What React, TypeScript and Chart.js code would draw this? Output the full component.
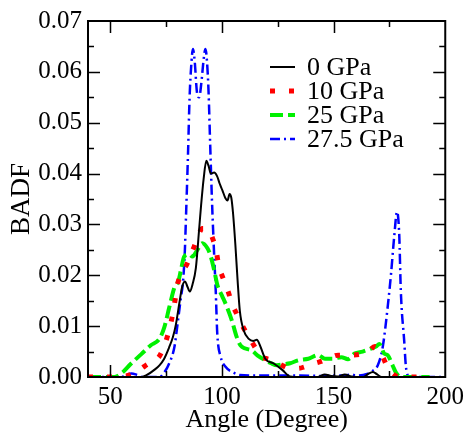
import React, { useEffect, useRef } from 'react';
import { Chart, registerables } from 'chart.js';

Chart.register(...registerables);

const FONT = "'Liberation Serif', 'Times New Roman', Times, serif";

const seriesLabels = ['0 GPa', '10 GPa', '25 GPa', '27.5 GPa'];

const blackX = [40, 64, 66, 70, 72, 74, 76.4, 78, 79.4, 80.9, 82.2, 83.5, 84.5, 85.6, 86.8, 88.3, 89.8, 90.6, 91.8, 93, 94, 95, 96.5, 97.8, 99, 100.2, 101.5, 102.5, 103.4, 104.2, 105, 106, 107, 108, 109.8, 112, 114, 115.6, 117.2, 119.4, 123, 127, 130.5, 135, 143, 146, 149, 152, 155, 158, 163.5, 165.5, 167.6, 169.5, 171.5, 200];
const blackY = [0, 0, 0.0003, 0.0015, 0.0023, 0.0035, 0.0059, 0.0078, 0.0104, 0.0145, 0.0178, 0.0188, 0.0178, 0.0168, 0.0182, 0.0214, 0.0292, 0.0335, 0.039, 0.0425, 0.0415, 0.040, 0.0402, 0.0395, 0.038, 0.0367, 0.0352, 0.0347, 0.036, 0.0352, 0.032, 0.026, 0.019, 0.013, 0.0091, 0.0075, 0.0071, 0.0073, 0.006, 0.0036, 0.0027, 0.0014, 0.0001, 0, 0, 0.0005, 0.0002, 0.0001, 0.0005, 0.0001, 0, 0.0006, 0.001, 0.0005, 0, 0];

const redX = [40, 52, 55, 58.7, 62, 65.3, 68.5, 72, 75, 77.2, 78.7, 80.1, 82, 84.2, 86, 87.6, 89.5, 91.2, 93, 94.2, 96, 97.2, 98.7, 100, 101.6, 103, 104.6, 106.5, 108.3, 110.5, 112.8, 115, 117.2, 120, 122.4, 126, 130.5, 134.2, 137, 140, 144, 147.6, 152, 157, 162.4, 165.5, 168.5, 170.5, 172.5, 174, 176, 178, 181.5, 191];
const redY = [0, 0, 0.0001, 0.0004, 0.0011, 0.0021, 0.003, 0.0041, 0.0072, 0.0108, 0.0143, 0.0182, 0.0205, 0.0221, 0.024, 0.0257, 0.028, 0.0292, 0.0292, 0.0289, 0.027, 0.0253, 0.0216, 0.020, 0.0182, 0.0165, 0.0143, 0.0125, 0.0108, 0.009, 0.0073, 0.0057, 0.0041, 0.0036, 0.0033, 0.0025, 0.0017, 0.0017, 0.002, 0.0025, 0.003, 0.0036, 0.0043, 0.0043, 0.0045, 0.005, 0.006, 0.0052, 0.0035, 0.002, 0.0008, 0.0002, 0, 0];

const greenX = [40, 52, 55.7, 59, 63.9, 68, 72, 74.2, 76.4, 78.7, 80.5, 81.6, 83.1, 85.3, 86.8, 89, 91.2, 93.5, 95, 96.5, 98, 100, 102, 104.5, 106.5, 108.3, 110.5, 113.5, 116, 119.4, 122, 124.6, 127.5, 130.5, 134.2, 138.7, 143.1, 146.1, 149.8, 153.5, 156.4, 159.4, 163, 166.8, 169, 170.5, 172.7, 174.2, 176.4, 178, 180, 193];
const greenY = [0, 0, 0.001, 0.0025, 0.0045, 0.0062, 0.0075, 0.0098, 0.0137, 0.0176, 0.0189, 0.021, 0.0237, 0.0241, 0.0237, 0.025, 0.0263, 0.0253, 0.0237, 0.021, 0.018, 0.016, 0.014, 0.011, 0.008, 0.0062, 0.0056, 0.0052, 0.0042, 0.0033, 0.0027, 0.0023, 0.0025, 0.0027, 0.0033, 0.0036, 0.0043, 0.0036, 0.0036, 0.0039, 0.0035, 0.0046, 0.005, 0.0056, 0.006, 0.0065, 0.0046, 0.0043, 0.0023, 0.0008, 0, 0];

const blueX = [40, 55, 57, 59.5, 62, 64.5, 72, 74, 76.4, 78.7, 80.1, 81.6, 82.5, 83.3, 84, 84.8, 85.5, 86.2, 87, 87.8, 88.8, 89.8, 90.8, 91.8, 92.6, 93.3, 94, 94.7, 95.5, 96.4, 97.2, 97.9, 99.4, 101.6, 104.6, 108, 115, 125, 135, 145, 152, 155, 157.9, 160, 165, 167.5, 169.8, 172, 174.2, 175.7, 177.2, 178.4, 179.4, 180.1, 181.6, 182.4, 184, 200];
const blueY = [0, 0, 0.0004, 0.0007, 0.0004, 0, 0, 0.0008, 0.0027, 0.0059, 0.0104, 0.0156, 0.0185, 0.024, 0.033, 0.044, 0.055, 0.061, 0.0645, 0.062, 0.056, 0.055, 0.058, 0.0625, 0.0645, 0.062, 0.056, 0.046, 0.035, 0.025, 0.017, 0.0085, 0.004, 0.002, 0.001, 0.0004, 0.0003, 0.0003, 0.0003, 0.0002, 0.0003, 0.0003, 0.0005, 0.0003, 0.0006, 0.0012, 0.0023, 0.0059, 0.0137, 0.0202, 0.0279, 0.0325, 0.0279, 0.0169, 0.0072, 0.002, 0, 0];

const xMajorTicks = [50, 100, 150, 200];
const xMinorTicks = [75, 125, 175];
const yMajorStep = 0.01;
const yMinorStep = 0.005;
const xMin = 40;
const xMax = 200;
const yMin = 0;
const yMax = 0.07;

const zip = (xs: number[], ys: number[]) => xs.map((x, i) => ({ x, y: ys[i] }));

const framePlugin = {
  id: 'frameTicks',
  afterDatasetsDraw(chart: any) {
    const { ctx, chartArea: a, scales } = chart;
    const xs = scales.x;
    const ys = scales.y;
    ctx.save();
    ctx.strokeStyle = '#000';
    ctx.lineWidth = 2;
    ctx.setLineDash([]);
    ctx.strokeRect(a.left, a.top, a.right - a.left, a.bottom - a.top);
    ctx.lineWidth = 1.5;
    ctx.beginPath();
    const xt: [number, number][] = [];
    xMajorTicks.forEach((v) => xt.push([v, 12]));
    xMinorTicks.forEach((v) => xt.push([v, 6]));
    xt.forEach(([v, len]) => {
      if (v <= xMin || v >= xMax) return;
      const px = Math.round(xs.getPixelForValue(v)) + 0.5;
      ctx.moveTo(px, a.bottom);
      ctx.lineTo(px, a.bottom - len);
      ctx.moveTo(px, a.top);
      ctx.lineTo(px, a.top + len);
    });
    const n = Math.round((yMax - yMin) / yMinorStep);
    for (let i = 1; i < n; i++) {
      const v = yMin + i * yMinorStep;
      const major = Math.abs(v / yMajorStep - Math.round(v / yMajorStep)) < 1e-6;
      const len = major ? 12 : 6;
      const py = Math.round(ys.getPixelForValue(v)) + 0.5;
      ctx.moveTo(a.left, py);
      ctx.lineTo(a.left + len, py);
      ctx.moveTo(a.right, py);
      ctx.lineTo(a.right - len, py);
    }
    ctx.stroke();
    ctx.restore();
  },
};

const legendPlugin = {
  id: 'insideLegend',
  afterDraw(chart: any) {
    const { ctx, chartArea: a } = chart;
    chart.data.datasets.forEach((ds: any, i: number) => {
      const y = a.top + 46 + i * 24;
      const x0 = a.left + 182;
      ctx.save();
      ctx.strokeStyle = ds.borderColor;
      ctx.lineWidth = ds.borderWidth;
      ctx.lineCap = 'butt';
      ctx.setLineDash(ds.borderDash || []);
      ctx.beginPath();
      ctx.moveTo(x0, y);
      ctx.lineTo(x0 + 25, y);
      ctx.stroke();
      ctx.setLineDash([]);
      ctx.fillStyle = '#000';
      ctx.font = `26px ${FONT}`;
      ctx.textBaseline = 'middle';
      ctx.textAlign = 'left';
      ctx.fillText(ds.label, x0 + 37, y + 1);
      ctx.restore();
    });
  },
};

export default function App() {
  const ref = useRef<HTMLCanvasElement | null>(null);

  useEffect(() => {
    if (!ref.current) return;
    const common = {
      pointRadius: 0,
      fill: false,
      cubicInterpolationMode: 'monotone' as const,
      borderCapStyle: 'butt' as const,
    };
    const chart = new Chart(ref.current, {
      type: 'line',
      data: {
        datasets: [
          { ...common, label: seriesLabels[0], data: zip(blackX, blackY), borderColor: '#000000', borderWidth: 2, borderDash: [] },
          { ...common, label: seriesLabels[1], data: zip(redX, redY), borderColor: '#ff0000', borderWidth: 5, borderDash: [5, 14] },
          { ...common, label: seriesLabels[2], data: zip(greenX, greenY), borderColor: '#00f000', borderWidth: 4, borderDash: [13, 5] },
          { ...common, label: seriesLabels[3], data: zip(blueX, blueY), borderColor: '#0000ff', borderWidth: 2.5, borderDash: [10, 4, 2, 4] },
        ],
      },
      options: {
        animation: false,
        responsive: false,
        devicePixelRatio: 1,
        layout: { padding: { top: 17, right: 21, left: 0, bottom: 0 } },
        plugins: { legend: { display: false }, tooltip: { enabled: false } },
        scales: {
          x: {
            type: 'linear',
            min: xMin,
            max: xMax,
            grid: { display: false, drawTicks: false },
            border: { display: false },
            afterBuildTicks: (axis: any) => {
              axis.ticks = xMajorTicks.map((v) => ({ value: v }));
            },
            afterFit: (s: any) => {
              s.height = 60;
            },
            ticks: {
              font: { family: FONT, size: 25 },
              color: '#000',
              padding: 5,
              maxRotation: 0,
              autoSkip: false,
            },
            title: {
              display: true,
              text: 'Angle (Degree)',
              font: { family: FONT, size: 26 },
              color: '#000',
              padding: { top: 0, bottom: 1 },
            },
          },
          y: {
            type: 'linear',
            min: yMin,
            max: yMax,
            grid: { display: false, drawTicks: false },
            border: { display: false },
            afterFit: (s: any) => {
              s.width = 88;
            },
            ticks: {
              stepSize: yMajorStep,
              font: { family: FONT, size: 25 },
              color: '#000',
              padding: 6,
              callback: (v: any) => Number(v).toFixed(2),
            },
            title: {
              display: true,
              text: 'BADF',
              font: { family: FONT, size: 27 },
              color: '#000',
              padding: { top: 6, bottom: 0 },
            },
          },
        },
      },
      plugins: [framePlugin, legendPlugin],
    } as any);
    return () => chart.destroy();
  }, []);

  return (
    <div style={{ position: 'fixed', left: 0, top: 0, width: 469, height: 437, background: '#fff' }}>
      <canvas ref={ref} width={469} height={437} style={{ width: 469, height: 437, display: 'block' }} />
    </div>
  );
}
